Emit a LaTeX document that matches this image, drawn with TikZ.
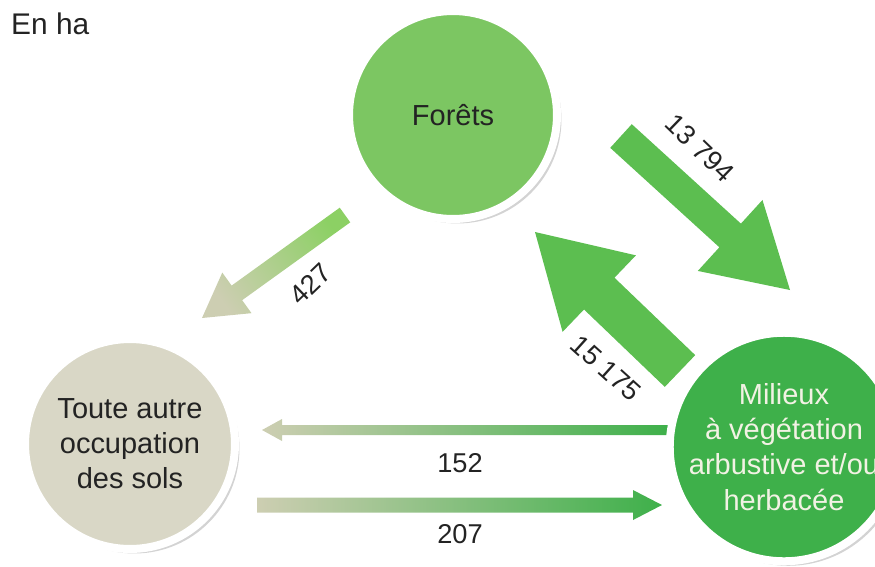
\documentclass[tikz,border=0pt]{standalone}
\usepackage{fontspec}
\setmainfont{Liberation Sans}
\usetikzlibrary{calc,shadows}

\definecolor{vertforet}{RGB}{124,198,98}
\definecolor{vertmilieu}{RGB}{62,176,74}
\definecolor{beigesol}{RGB}{217,215,198}
\definecolor{vertfleche}{RGB}{92,190,80}
\definecolor{vertclair}{RGB}{140,208,100}
\definecolor{beigefleche}{RGB}{205,206,178}
\definecolor{vertmoyen}{RGB}{150,200,125}
\definecolor{texte}{RGB}{35,35,35}
\definecolor{blanc}{RGB}{242,242,228}

\tikzset{
  poste/.style={circle, draw=white, line width=0.16cm, inner sep=0pt, align=center,
    text=texte, font=\fontsize{16.5}{20}\selectfont,
    drop shadow={opacity=.35, shadow xshift=.09cm, shadow yshift=-.09cm}},
  valeur/.style={text=texte, font=\fontsize{15.5}{18}\selectfont},
}

% fleche epaisse : style, depart, pointe, demi-tige, demi-tete, longueur tete (en px)
\newcommand\flux[6][]{%
  \coordinate (base) at ($(#3)!#6*0.02cm!(#2)$);
  \path[#1] ($(#2)!#4*0.02cm!90:(#3)$) -- ($(base)!#4*0.02cm!90:(#3)$)
    -- ($(base)!#5*0.02cm!90:(#3)$) -- (#3) -- ($(base)!#5*0.02cm!-90:(#3)$)
    -- ($(base)!#4*0.02cm!-90:(#3)$) -- ($(#2)!#4*0.02cm!-90:(#3)$) -- cycle;}

\begin{document}
\begin{tikzpicture}[x=0.02cm,y=-0.02cm]
	\useasboundingbox (0,0) rectangle (875,566);
	\node[font=\fontsize{17}{20}\selectfont, text=texte, anchor=west] (unite) at (5,24) {En ha};

	\coordinate (a1) at (621,136); \coordinate (b1) at (790,290);
	\coordinate (a2) at (680,371); \coordinate (b2) at (535,232);
	\coordinate (a3) at (345,215); \coordinate (b3) at (202,318);
	\coordinate (a4) at (668,430); \coordinate (b4) at (262,430);
	\coordinate (a5) at (257,505); \coordinate (b5) at (662,505);

	\flux[fill=vertfleche]{a1}{b1}{16}{48}{81}
	\flux[fill=vertfleche]{a2}{b2}{22}{53}{89}
	\flux[top color=vertclair, bottom color=beigefleche, shading angle=-54]{a3}{b3}{9}{25}{43}
	\flux[left color=beigefleche, middle color=vertmoyen, right color=vertmilieu]{a4}{b4}{5}{11}{20}
	\flux[left color=beigefleche, middle color=vertmoyen, right color=vertmilieu]{a5}{b5}{7.5}{15}{29}

	\node[poste, fill=vertforet, minimum size=4.16cm] (foret) at (453,115) {Forêts};
	\node[poste, fill=beigesol, minimum size=4.2cm] (autre) at (130,444) {Toute autre\\occupation\\des sols};
	\node[poste, fill=vertmilieu, text=blanc, minimum size=4.04cm] (milieu) at (784,447) {Milieux\\à végétation\\arbustive et/ou\\herbacée};

	\node[valeur, rotate=-44] (l13794) at (700,148) {13 794};
	\node[valeur, rotate=-42] (l15175) at (606,368) {15 175};
	\node[valeur, rotate=44] (l427) at (310,284) {427};
	\node[valeur] (l152) at (460,463) {152};
	\node[valeur] (l207) at (460,534) {207};
\end{tikzpicture}
\end{document}
